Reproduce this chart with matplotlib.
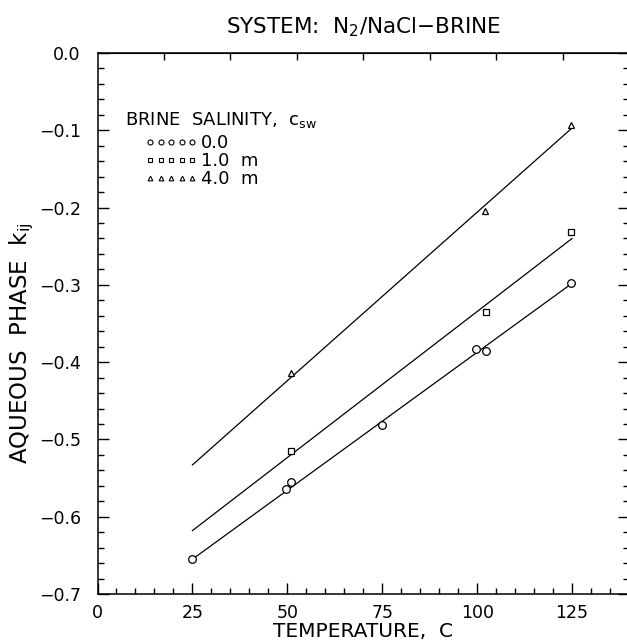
import matplotlib
matplotlib.use("Agg")
import matplotlib.pyplot as plt
from matplotlib.lines import Line2D
from matplotlib.ticker import MultipleLocator, FixedLocator

plt.rcParams['font.family'] = ['DejaVu Sans']
plt.rcParams['mathtext.default'] = 'regular'

# Measured binary interaction parameters, N2 / NaCl brine
t_0m = [25.0, 49.7, 51.1, 75.0, 99.6, 102.4, 124.6]
k_0m = [-0.655, -0.564, -0.555, -0.481, -0.383, -0.386, -0.297]

t_1m = [51.1, 102.4, 124.6]
k_1m = [-0.515, -0.335, -0.232]

t_4m = [51.1, 102.2, 124.6]
k_4m = [-0.414, -0.204, -0.093]

# Straight-line correlations over 25-125 C
fit_t = [25.0, 125.0]
fit_0m = [-0.655, -0.298]
fit_1m = [-0.618, -0.240]
fit_4m = [-0.533, -0.097]

legend_labels = ["0.0", "1.0  m", "4.0  m"]
x_major = [0, 25, 50, 75, 100, 125]
y_major = [0.0, -0.1, -0.2, -0.3, -0.4, -0.5, -0.6, -0.7]
y_labels = ["0.0", "\u22120.1", "\u22120.2", "\u22120.3", "\u22120.4",
            "\u22120.5", "\u22120.6", "\u22120.7"]
top_ticks = [17.5, 35.0, 52.5, 70.0, 87.5, 105.0, 122.5]

W, H = 627, 644
fig = plt.figure(figsize=(W / 100, H / 100), dpi=100)
x0, x1, y0, y1 = 97.5, 629.0, 53.0, 594.0
ax = fig.add_axes([x0 / W, 1 - y1 / H, (x1 - x0) / W, (y1 - y0) / H])

lw = 0.9
ax.plot(fit_t, fit_0m, color='k', lw=lw)
ax.plot(fit_t, fit_1m, color='k', lw=lw)
ax.plot(fit_t, fit_4m, color='k', lw=lw)

ax.plot(t_0m, k_0m, ls='none', marker='o', ms=5.5, mfc='white', mec='k', mew=0.9)
ax.plot(t_1m, k_1m, ls='none', marker='s', ms=4.5, mfc='white', mec='k', mew=0.9)
ax.plot(t_4m, k_4m, ls='none', marker='^', ms=4.2, mfc='white', mec='k', mew=0.9)

ax.set_xlim(0, 140)
ax.set_ylim(-0.7, 0.0)

ax.xaxis.set_major_locator(FixedLocator(x_major))
ax.xaxis.set_minor_locator(MultipleLocator(5))
ax.set_yticks(y_major)
ax.set_yticklabels(y_labels)
ax.yaxis.set_minor_locator(MultipleLocator(0.02))

ax.tick_params(axis='both', which='both', direction='in', width=1.0,
               top=False, right=True, labelsize=12.5)
ax.tick_params(axis='both', which='major', length=8)
ax.tick_params(axis='both', which='minor', length=4.5)
ax.tick_params(axis='x', which='major', pad=7)
ax.tick_params(axis='y', which='major', pad=12)

sec = ax.secondary_xaxis('top')
sec.set_xticks(top_ticks)
sec.tick_params(axis='x', direction='in', length=5, width=1.0, labeltop=False)
sec.xaxis.set_minor_locator(FixedLocator([]))
sec.set_xticklabels([])

for s in ax.spines.values():
    s.set_linewidth(1.1)

ax.set_title("SYSTEM:  N$_2$/NaCl\u2212BRINE", fontsize=15.5, pad=14)
ax.set_xlabel("TEMPERATURE,  C", fontsize=14.5, labelpad=0)
fig.text(22 / W, 1 - 343 / H, "AQUEOUS  PHASE  k$_{ij}$", rotation=90,
         fontsize=16.5, ha='center', va='center')

# Legend block
ax.text((125 - x0) / (x1 - x0), 1 - (120 - y0) / (y1 - y0),
        "BRINE  SALINITY,  c$_{sw}$", transform=ax.transAxes,
        fontsize=13, ha='left', va='center')
handles = [
    Line2D([], [], ls='none', marker='o', ms=3.6, mfc='white', mec='k', mew=0.8),
    Line2D([], [], ls='none', marker='s', ms=3.2, mfc='white', mec='k', mew=0.8),
    Line2D([], [], ls='none', marker='^', ms=3.4, mfc='white', mec='k', mew=0.8),
]
ax.legend(handles, legend_labels, loc='upper left', numpoints=5,
          bbox_to_anchor=((145 - x0) / (x1 - x0), 1 - (134 - y0) / (y1 - y0)),
          frameon=False, fontsize=13, handlelength=2.9, handletextpad=0.2,
          labelspacing=0.0, borderpad=0, borderaxespad=0)

fig.savefig("out.png", dpi=100)
